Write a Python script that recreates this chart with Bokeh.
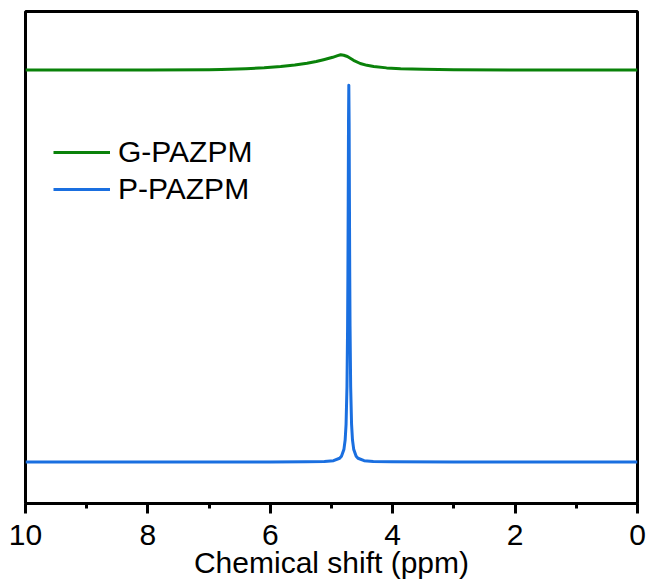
from bokeh.plotting import figure
from bokeh.models import Range1d, FixedTicker, Legend, LegendItem
from bokeh.embed import file_html
from bokeh.resources import INLINE

# ---- data ----
green_ppm = [10, 9, 8, 7, 6.8, 6.4, 6.1, 5.83, 5.6, 5.4, 5.25, 5.13, 4.98, 4.9, 4.85,
             4.8, 4.74, 4.64, 4.53, 4.42, 4.31, 4.1, 3.87, 3.5, 3.0, 2.0, 1.0, 0]
green_int = [88.11, 88.11, 88.13, 88.17, 88.21, 88.37, 88.56, 88.82, 89.11, 89.47, 89.84,
             90.20, 90.69, 91.02, 91.20, 91.10, 90.85, 90.08, 89.43, 89.06, 88.82, 88.54,
             88.37, 88.25, 88.17, 88.13, 88.11, 88.09]

blue_ppm = [10, 8, 6, 5.417, 5.117, 4.967, 4.867, 4.837, 4.797, 4.777, 4.762, 4.747, 4.737,
            4.732, 4.727, 4.722, 4.717, 4.712, 4.707, 4.702, 4.697, 4.687, 4.672, 4.657,
            4.637, 4.597, 4.567, 4.467, 4.317, 4.017, 3, 2, 0]
blue_int = [8.44, 8.44, 8.45, 8.48, 8.55, 8.70, 9.20, 9.62, 11.0, 12.9, 16.1, 23.8, 36.0,
            46.7, 61.5, 77.4, 85.0, 77.4, 61.5, 46.7, 36.0, 23.8, 16.1, 12.9, 11.0, 9.62,
            9.20, 8.70, 8.55, 8.48, 8.45, 8.44, 8.44]

series_names = ["G-PAZPM", "P-PAZPM"]
series_colors = ["#0A820A", "#1A6FE0"]

major_ticks = [0, 2, 4, 6, 8, 10]
minor_ticks = [1, 3, 5, 7, 9]
x_label = "Chemical shift (ppm)"

FONT = "Liberation Sans"

p = figure(width=647, height=584, output_backend="svg", toolbar_location=None,
           x_range=Range1d(10, 0), y_range=Range1d(0, 100),
           min_border_left=25, min_border_right=10, min_border_top=11,
           min_border_bottom=81)

p.xgrid.visible = False
p.ygrid.visible = False
p.yaxis.visible = False
p.outline_line_color = "black"
p.outline_line_width = 3
p.background_fill_color = "white"
p.border_fill_color = "white"

g = p.line(green_ppm, green_int, line_color=series_colors[0], line_width=3, line_join="round")
b = p.line(blue_ppm, blue_int, line_color=series_colors[1], line_width=3, line_join="round")

ax = p.xaxis[0]
ax.ticker = FixedTicker(ticks=major_ticks, minor_ticks=minor_ticks)
ax.axis_line_width = 3
ax.axis_line_color = "black"
ax.major_tick_line_width = 3
ax.minor_tick_line_width = 3
ax.major_tick_out = 10
ax.major_tick_in = 0
ax.minor_tick_out = 5
ax.minor_tick_in = 0
ax.major_label_text_font = FONT
ax.major_label_text_font_size = "30px"
ax.major_label_text_color = "black"
ax.major_label_standoff = 11
ax.axis_label = x_label
ax.axis_label_text_font = FONT
ax.axis_label_text_font_size = "30px"
ax.axis_label_text_font_style = "normal"
ax.axis_label_text_color = "black"
ax.axis_label_standoff = -2

legend = Legend(items=[LegendItem(label=series_names[0], renderers=[g]),
                       LegendItem(label=series_names[1], renderers=[b])],
                location=(28, 297), orientation="vertical",
                glyph_width=57, glyph_height=34, label_height=34,
                label_standoff=8, spacing=3, padding=0, margin=0,
                border_line_color=None, background_fill_alpha=0,
                label_text_font=FONT, label_text_font_size="30px",
                label_text_color="black")
p.add_layout(legend, "center")

open("out.html", "w").write(file_html(p, INLINE))
